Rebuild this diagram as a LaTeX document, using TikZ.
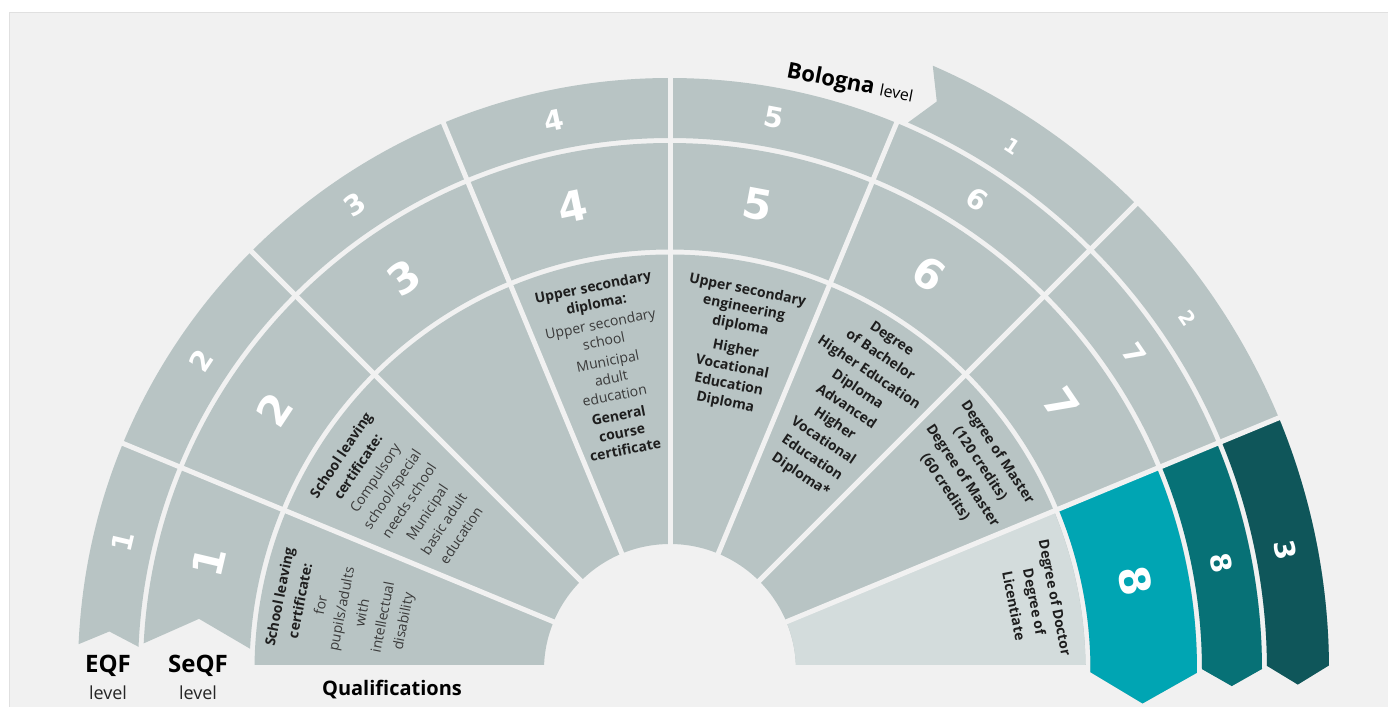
\documentclass[tikz,border=0pt]{standalone}
\usepackage{fontspec}
\setmainfont{Open Sans}
\newfontfamily\numfont{DejaVu Sans}
\definecolor{bg}{HTML}{F1F1F1}
\definecolor{framec}{HTML}{E0E0E0}
\definecolor{segA}{HTML}{B8C4C4}
\definecolor{segL}{HTML}{D3DCDC}
\definecolor{tealA}{HTML}{00A5B3}
\definecolor{tealB}{HTML}{077176}
\definecolor{tealC}{HTML}{0F565A}
\definecolor{txtB}{HTML}{1E1E1E}
\definecolor{txtR}{HTML}{3A3A3A}
\newcommand{\rg}[1]{{\color{txtR}\mdseries #1}}
\begin{document}
\begin{tikzpicture}[x=1pt,y=1pt,
  gap/.style={draw=bg,line width=5pt},
  seqfnum/.style={text=white,font=\numfont\bfseries\fontsize{42}{42}\selectfont,inner sep=0pt},
  eqfnum/.style={text=white,font=\numfont\bfseries\fontsize{28}{28}\selectfont,inner sep=0pt},
  bolnum/.style={text=white,font=\numfont\bfseries\fontsize{20}{20}\selectfont,inner sep=0pt},
  qtext/.style={text=txtB,align=center,inner sep=0pt},
  qf/.style={font=\bfseries\fontsize{14}{#1}\selectfont},
  biglbl/.style={text=black,font=\bfseries\fontsize{24}{24}\selectfont,inner sep=0pt},
  smalllbl/.style={text=black!85,font=\fontsize{18}{18}\selectfont,inner sep=0pt}
]
\useasboundingbox (0,0) rectangle (1388,707);
\fill[white] (0,0) rectangle (1388,707);
\fill[bg] (9.5,0) rectangle (1388,694.5);
\draw[framec,line width=1.5pt] (9.5,0) -- (9.5,694.5) -- (1388,694.5);
\coordinate (C) at (670,37);
\begin{scope}[shift={(C)}]
  % qualifications ring
  \begin{scope}
    \clip (-700,6) rectangle (700,700);
    \fill[segA] (-5:415.5) arc[start angle=-5,end angle=185,radius=415.5]
       -- (185:126) arc[start angle=185,end angle=-5,radius=126] -- cycle;
    \fill[segL] (-5:415.5) arc[start angle=-5,end angle=22.5,radius=415.5]
       -- (22.5:126) arc[start angle=22.5,end angle=-5,radius=126] -- cycle;
  \end{scope}
  % SeQF ring
  \fill[segA] (177.1:527) arc[start angle=177.1,end angle=-0.3,radius=527]
     -- (-4.05:473.75) -- (-0.3:420.5) arc[start angle=-0.3,end angle=177.1,radius=420.5]
     -- (173.8:473.75) -- cycle;
  \fill[tealA] (22.5:527) arc[start angle=22.5,end angle=-0.3,radius=527]
     -- (-4.05:473.75) -- (-0.3:420.5) arc[start angle=-0.3,end angle=22.5,radius=420.5] -- cycle;
  % EQF ring
  \fill[segA] (177.5:592) arc[start angle=177.5,end angle=0.1,radius=592]
     -- (-1.64:562) -- (0.1:532) arc[start angle=0.1,end angle=177.5,radius=532]
     -- (176.07:562) -- cycle;
  \fill[tealB] (22.5:592) arc[start angle=22.5,end angle=0.1,radius=592]
     -- (-1.64:562) -- (0.1:532) arc[start angle=0.1,end angle=22.5,radius=532] -- cycle;
  % Bologna ring
  \fill[segA] (66.5:659) arc[start angle=66.5,end angle=0.4,radius=659]
     -- (-1.33:628) -- (0.4:597) arc[start angle=0.4,end angle=66.5,radius=597]
     -- (64.86:628) -- cycle;
  \fill[tealC] (22.5:659) arc[start angle=22.5,end angle=0.4,radius=659]
     -- (-1.33:628) -- (0.4:597) arc[start angle=0.4,end angle=22.5,radius=597] -- cycle;
  % radial gaps
  \foreach \a in {157.5,135,112.5,90} \draw[gap] (\a:120) -- (\a:600);
  \draw[gap] (67.5:120) -- (67.5:594);
  \foreach \a in {45,22.5} \draw[gap] (\a:120) -- (\a:668);
  % SeQF numbers
  \foreach \n/\a in {1/166.8,2/146.6,3/124.1,4/101.8,5/79.4,6/56.8,7/34.2,8/10.8}
    \node[seqfnum,rotate=\a-90] (s\n) at (\a:473.75) {\n};
  % EQF numbers
  \foreach \n/\a in {1/166.8,2/146.6,3/124.1,4/101.9,5/79.3,6/56.9,7/34.2,8/11}
    \node[eqfnum,rotate=\a-90] (e\n) at (\a:562) {\n};
  % Bologna numbers
  \node[bolnum,rotate=-33.5] (b1) at (56.8:626) {1};
  \node[bolnum,rotate=-56] (b2) at (34.2:626) {2};
  \node[eqfnum,rotate=-79] (b3) at (11:627) {3};
  % qualification texts
  \node[qtext,qf=21,rotate=78.75] (q1) at (169.5:333)
    {School leaving\\certificate:\\\rg{for}\\\rg{pupils/adults}\\\rg{with}\\\rg{intellectual}\\\rg{disability}};
  \node[qtext,qf=20.5,rotate=56.25] (q2) at (147:321)
    {School leaving\\certificate:\\\rg{Compulsory}\\\rg{school/special}\\\rg{needs school}\\[1pt]\rg{Municipal}\\\rg{basic adult}\\\rg{education}};
  \node[qtext,qf=17.5,rotate=11.25] (q4) at (101.4:308)
    {Upper secondary\\diploma:\\[3pt]\rg{Upper secondary}\\\rg{school}\\[3pt]\rg{Municipal}\\\rg{adult}\\\rg{education}\\[3pt]General\\course\\certificate};
  \node[qtext,qf=18,rotate=-11.25] (q5) at (78.4:330)
    {Upper secondary\\engineering\\diploma\\[6pt]Higher\\Vocational\\Education\\Diploma};
  \node[qtext,qf=20.5,rotate=-33.75] (q6) at (56.2:316)
    {Degree\\of Bachelor\\Higher Education\\Diploma\\Advanced\\Higher\\Vocational\\Education\\Diploma*};
  \node[qtext,qf=21,rotate=-56.25] (q7) at (33.6:362)
    {Degree of Master\\(120 credits)\\Degree of Master\\(60 credits)};
  \node[qtext,qf=21,rotate=-78.75] (q8) at (10.6:371)
    {Degree of Doctor\\Degree of\\Licentiate};
\end{scope}
% level labels
\node[biglbl] (eqf) at (108,41) {EQF};
\node[smalllbl] (eqfl) at (108,14) {level};
\node[biglbl] (seqf) at (198,41) {SeQF};
\node[smalllbl] (seqfl) at (198,14) {level};
\node[text=black,font=\bfseries\fontsize{20}{20}\selectfont,inner sep=0pt] (qual) at (392,17) {Qualifications};
\node[rotate=-11,inner sep=0pt,text=black] (bol) at (850,623)
  {\fontsize{22}{22}\selectfont\bfseries Bologna \fontsize{16}{16}\selectfont\mdseries level};
\end{tikzpicture}
\end{document}
